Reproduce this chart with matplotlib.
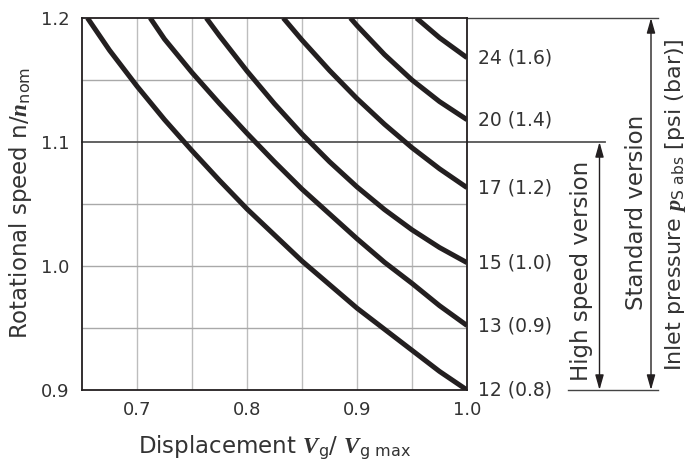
import matplotlib
matplotlib.use("Agg")
import matplotlib.pyplot as plt
import numpy as np

plt.rcParams['font.family'] = ['DejaVu Sans']
plt.rcParams['mathtext.fontset'] = 'custom'
plt.rcParams['mathtext.rm'] = 'DejaVu Sans'
plt.rcParams['mathtext.bf'] = 'Liberation Serif:bold:italic'

# ---- data ----
labels = ["12 (0.8)", "13 (0.9)", "15 (1.0)", "17 (1.2)", "20 (1.4)", "24 (1.6)"]
x_12 = [0.655, 0.675, 0.700, 0.725, 0.750, 0.775, 0.800, 0.825, 0.850, 0.875, 0.900, 0.925, 0.950, 0.975, 1.000]
y_12 = [1.200, 1.174, 1.145, 1.118, 1.093, 1.069, 1.046, 1.025, 1.004, 0.985, 0.966, 0.949, 0.932, 0.915, 0.900]
x_13 = [0.712, 0.725, 0.750, 0.775, 0.800, 0.825, 0.850, 0.875, 0.900, 0.925, 0.950, 0.975, 1.000]
y_13 = [1.200, 1.183, 1.156, 1.131, 1.107, 1.084, 1.062, 1.042, 1.022, 1.003, 0.986, 0.968, 0.952]
x_15 = [0.763, 0.775, 0.800, 0.825, 0.850, 0.875, 0.900, 0.925, 0.950, 0.975, 1.000]
y_15 = [1.200, 1.1856, 1.1572, 1.1308, 1.1064, 1.0841, 1.0638, 1.0455, 1.0292, 1.0149, 1.0027]
x_17 = [0.833, 0.850, 0.875, 0.900, 0.925, 0.950, 0.975, 1.000]
y_17 = [1.200, 1.1822, 1.1577, 1.135, 1.1143, 1.0954, 1.0784, 1.0632]
x_20 = [0.894, 0.900, 0.925, 0.950, 0.975, 1.000]
y_20 = [1.200, 1.1939, 1.1705, 1.150, 1.1326, 1.118]
x_24 = [0.954, 0.975, 1.000]
y_24 = [1.200, 1.1841, 1.168]
xticks = [0.7, 0.8, 0.9, 1.0]
yticks = [0.9, 1.0, 1.1, 1.2]

curves = [(x_12, y_12), (x_13, y_13), (x_15, y_15), (x_17, y_17), (x_20, y_20), (x_24, y_24)]

W, H = 687, 463
fig = plt.figure(figsize=(W / 100, H / 100), dpi=100)
L, R, T, B = 82, 467, 18, 390
ax = fig.add_axes([L / W, 1 - B / H, (R - L) / W, (B - T) / H])

ink = '#231f20'
txt = '#333333'

ax.set_xlim(0.65, 1.0)
ax.set_ylim(0.9, 1.2)

# grid
for gx in np.arange(0.70, 1.0, 0.05):
    ax.axvline(gx, color='#bdbdbd', lw=1.0, zorder=1)
for gy in [0.95, 1.0, 1.05, 1.15]:
    ax.axhline(gy, color='#a9a9a9', lw=1.0, zorder=1)

for s in ax.spines.values():
    s.set_color(ink)
    s.set_linewidth(1.3)

for (xs, ys), lab in zip(curves, labels):
    ax.plot(xs, ys, color=ink, lw=3.6, solid_capstyle='butt', solid_joinstyle='round',
            zorder=3, clip_on=True)
    ax.annotate(lab, xy=(1.0, ys[-1]), xytext=(8, 0), textcoords='offset points',
                va='center', ha='left', fontsize=13.5, color=txt, annotation_clip=False)

ax.set_xticks(xticks)
ax.set_xticklabels([f"{v:.1f}" for v in xticks])
ax.set_yticks(yticks)
ax.set_yticklabels([f"{v:.1f}" for v in yticks])
ax.tick_params(length=0, labelsize=13, labelcolor=txt)
ax.tick_params(axis='y', pad=9)
ax.tick_params(axis='x', pad=8)

def fx(p):
    return p / W

def fy(p):
    return 1 - p / H

fig.text(fx(274.5), fy(453),
         r"Displacement $\mathbf{V}_{\mathrm{g}}$/ $\mathbf{V}_{\mathrm{g\ max}}$",
         ha='center', va='baseline', fontsize=16.5, color=txt)
fig.text(fx(27), fy(203), r"Rotational speed n/$\mathbf{n}_{\mathrm{nom}}$",
         rotation=90, rotation_mode='anchor', ha='center', va='baseline',
         fontsize=16.5, color=txt)

# ---- right-hand annotation structure ----
def px2x(p):
    return 0.65 + (p - L) / (R - L) * 0.35

ax.plot([1.0, px2x(658)], [1.2, 1.2], color='#444444', lw=1.0, clip_on=False)
ax.plot([0.65, px2x(605)], [1.1, 1.1], color='#555555', lw=1.3, clip_on=False, zorder=2)
ax.plot([px2x(568), px2x(658)], [0.9, 0.9], color='#444444', lw=1.0, clip_on=False)

arrow_kw = dict(arrowstyle='<|-|>,head_length=0.6,head_width=0.17', color=ink, lw=1.0,
                shrinkA=0, shrinkB=0, mutation_scale=15)
ax.annotate('', xy=(px2x(599.5), 1.1), xytext=(px2x(599.5), 0.9),
            arrowprops=arrow_kw, annotation_clip=False)
ax.annotate('', xy=(px2x(651), 1.2), xytext=(px2x(651), 0.9),
            arrowprops=arrow_kw, annotation_clip=False)

rot_kw = dict(rotation=90, rotation_mode='anchor', ha='center', va='baseline',
              fontsize=16.5, color=txt)
fig.text(fx(588), fy(271), "High speed version", **rot_kw)
fig.text(fx(643), fy(212), "Standard version", **rot_kw)
fig.text(fx(681), fy(205),
         r"Inlet pressure $\mathbf{p}_{\mathrm{S\ abs}}$ [psi (bar)]",
         rotation=90, rotation_mode='anchor', ha='center', va='baseline',
         fontsize=16, color=txt)

fig.savefig("out.png", dpi=100)
